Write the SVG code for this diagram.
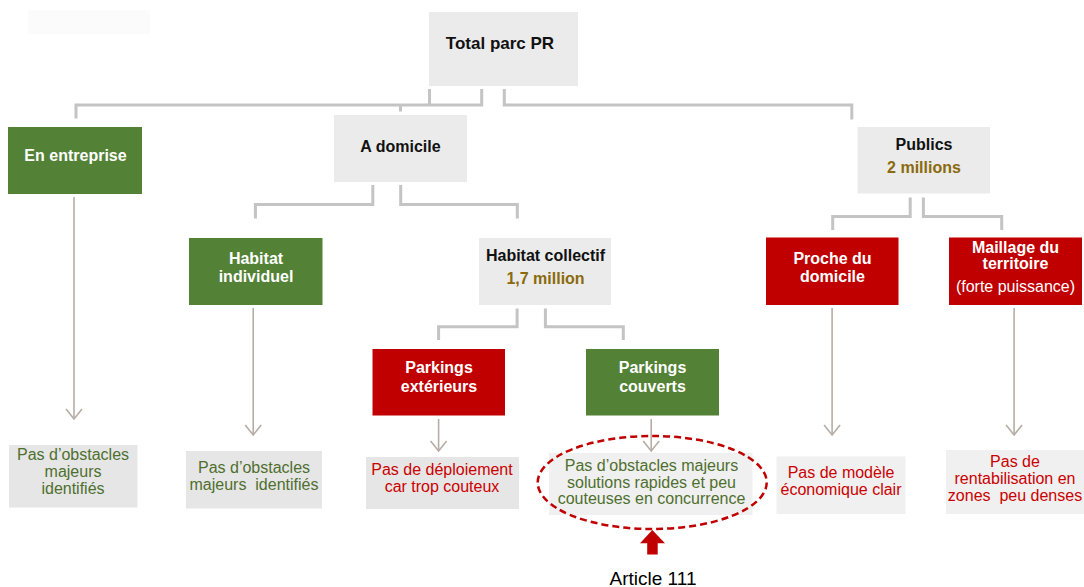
<svg xmlns="http://www.w3.org/2000/svg" width="1084" height="587" viewBox="0 0 1084 587">
<defs>
<style>
.bg{fill:#ffffff}
.gray{fill:#ebebeb}
.green{fill:#538135}
.red{fill:#c00000}
.res1{fill:#e6e6e6}
.res2{fill:#f0f0f0}
.t{font-family:"Liberation Sans",Arial,sans-serif;text-anchor:middle}
.b{font-weight:bold;font-size:16px}
.bw{fill:#ffffff}
.bk{fill:#111111}
.br{fill:#8a6a0b}
.n{font-size:16px}
.gt{fill:#4f6f2f}
.rt{fill:#cc0000}
.elb{fill:none;stroke:#c4c4c4;stroke-width:3}
.arr{fill:none;stroke:#b7ada6;stroke-width:1.6}
</style>
<marker id="ah" viewBox="0 0 20 20" refX="18" refY="10" markerWidth="20" markerHeight="20" markerUnits="userSpaceOnUse" orient="auto">
<path d="M8,2 L18,10 L8,18" fill="none" stroke="#b7ada6" stroke-width="1.6"/>
</marker>
</defs>
<rect class="bg" x="0" y="0" width="1084" height="587"/>
<rect x="28" y="10" width="122" height="24" fill="#fbfbfb"/>

<g id="connectors">
<polyline class="elb" points="429.5,89 429.5,105"/>
<polyline class="elb" points="481.7,89 481.7,105 76,105 76,118.5"/>
<polyline class="elb" points="400.5,105 400.5,111.5"/>
<polyline class="elb" points="504.3,89 504.3,105 851.8,105 851.8,119.5"/>
<polyline class="elb" points="372.8,185 372.8,204.5 255.4,204.5 255.4,218.5"/>
<polyline class="elb" points="400.7,185 400.7,204.5 517.3,204.5 517.3,218.5"/>
<polyline class="elb" points="910.2,197.5 910.2,216.5 832.7,216.5 832.7,230"/>
<polyline class="elb" points="923.4,197.5 923.4,216.5 1001.7,216.5 1001.7,230"/>
<polyline class="elb" points="517.1,308.5 517.1,326.7 438.6,326.7 438.6,340"/>
<polyline class="elb" points="545.4,308.5 545.4,326.7 623.3,326.7 623.3,340"/>
<line class="arr" x1="74" y1="197" x2="74" y2="419" marker-end="url(#ah)"/>
<line class="arr" x1="253.2" y1="308" x2="253.2" y2="435" marker-end="url(#ah)"/>
<line class="arr" x1="438.6" y1="419" x2="438.6" y2="451" marker-end="url(#ah)"/>
<line class="arr" x1="651.2" y1="419" x2="651.2" y2="451" marker-end="url(#ah)"/>
<line class="arr" x1="832.1" y1="308" x2="832.1" y2="435" marker-end="url(#ah)"/>
<line class="arr" x1="1014.1" y1="308" x2="1014.1" y2="435" marker-end="url(#ah)"/>
</g>

<g id="total">
<rect class="gray" x="429" y="12" width="149" height="74"/>
<text class="t b bk" x="500" y="49" style="font-size:17px">Total parc PR</text>
</g>
<g id="en-entreprise">
<rect class="green" x="8" y="127" width="134" height="67"/>
<text class="t b bw" x="75.5" y="161">En entreprise</text>
</g>
<g id="a-domicile">
<rect class="gray" x="334" y="115" width="133" height="67"/>
<text class="t b bk" x="400.5" y="151.5">A domicile</text>
</g>
<g id="publics">
<rect class="gray" x="857.5" y="127" width="132.5" height="66.5"/>
<text class="t b bk" x="924" y="150">Publics</text>
<text class="t b br" x="924" y="172.5">2 millions</text>
</g>
<g id="habitat-individuel">
<rect class="green" x="189" y="238" width="133.5" height="67"/>
<text class="t b bw" x="256" y="264">Habitat</text>
<text class="t b bw" x="256" y="281.5">individuel</text>
</g>
<g id="habitat-collectif">
<rect class="gray" x="479" y="238" width="132" height="67"/>
<text class="t b bk" x="545.5" y="261">Habitat collectif</text>
<text class="t b br" x="545.5" y="284">1,7 million</text>
</g>
<g id="proche-domicile">
<rect class="red" x="766" y="237.5" width="132.5" height="67.5"/>
<text class="t b bw" x="832.5" y="264">Proche du</text>
<text class="t b bw" x="832.5" y="281.5">domicile</text>
</g>
<g id="maillage">
<rect class="red" x="949" y="237.5" width="133" height="67.5"/>
<text class="t b bw" x="1015.5" y="252.5">Maillage du</text>
<text class="t b bw" x="1015.5" y="269">territoire</text>
<text class="t n bw" x="1015.5" y="292">(forte puissance)</text>
</g>
<g id="parkings-exterieurs">
<rect class="red" x="372.5" y="349" width="132.5" height="66.5"/>
<text class="t b bw" x="439" y="373">Parkings</text>
<text class="t b bw" x="439" y="391.5">extérieurs</text>
</g>
<g id="parkings-couverts">
<rect class="green" x="586" y="349" width="133" height="66.5"/>
<text class="t b bw" x="652.5" y="373">Parkings</text>
<text class="t b bw" x="652.5" y="391.5">couverts</text>
</g>

<g id="res-entreprise">
<rect class="res1" x="9" y="445" width="128.5" height="62.5"/>
<text class="t n gt" x="73" y="460">Pas d’obstacles</text>
<text class="t n gt" x="73" y="477">majeurs</text>
<text class="t n gt" x="73" y="494">identifiés</text>
</g>
<g id="res-individuel">
<rect class="res1" x="186" y="451" width="136" height="57.5"/>
<text class="t n gt" x="254" y="472.5">Pas d’obstacles</text>
<text class="t n gt" x="254" y="489.5" xml:space="preserve">majeurs  identifiés</text>
</g>
<g id="res-exterieurs">
<rect class="res1" x="366" y="457" width="153" height="52"/>
<text class="t n rt" x="442" y="474.5">Pas de déploiement</text>
<text class="t n rt" x="442" y="491.5">car trop couteux</text>
</g>
<g id="res-couverts">
<rect class="res2" x="549" y="453" width="203.5" height="62"/>
<text class="t n gt" x="651.5" y="471">Pas d’obstacles majeurs</text>
<text class="t n gt" x="651.5" y="487.5">solutions rapides et peu</text>
<text class="t n gt" x="651.5" y="504">couteuses en concurrence</text>
<ellipse cx="652.2" cy="482.5" rx="114.5" ry="46.5" fill="none" stroke="#c00000" stroke-width="2.5" stroke-dasharray="7 4"/>
</g>
<g id="res-proche">
<rect class="res2" x="776.5" y="456.5" width="129" height="57.5"/>
<text class="t n rt" x="841" y="478">Pas de modèle</text>
<text class="t n rt" x="841" y="495">économique clair</text>
</g>
<g id="res-maillage">
<rect class="res2" x="946" y="450" width="138" height="64"/>
<text class="t n rt" x="1015" y="466.5">Pas de</text>
<text class="t n rt" x="1015" y="483.5">rentabilisation en</text>
<text class="t n rt" x="1015" y="500.5" xml:space="preserve">zones  peu denses</text>
</g>

<g id="article-111">
<polygon points="652.3,530 665,543.3 657.7,543.3 657.7,554.5 647.2,554.5 647.2,543.3 640,543.3" fill="#c00000"/>
<text class="t" x="653" y="585" style="font-size:19px;fill:#000000">Article 111</text>
</g>
</svg>
